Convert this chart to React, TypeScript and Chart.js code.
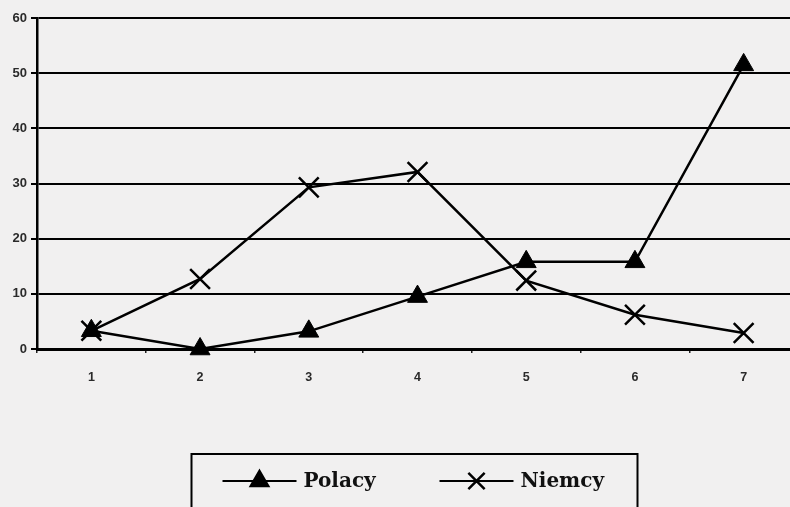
import React, { useEffect, useRef } from "react";
import { Chart, registerables } from "chart.js";
import { drawPoint } from "chart.js/helpers";

Chart.register(...registerables);

const categories = ["1", "2", "3", "4", "5", "6", "7"];
const polacy = [3.3, 0, 3.2, 9.5, 15.8, 15.8, 51.5];
const niemcy = [3.3, 12.7, 29.3, 32.1, 12.4, 6.2, 2.9];
const seriesNames = ["Polacy", "Niemcy"];
const yMin = 0;
const yMax = 60;
const yStep = 10;

const BG = "#f1f0f0";

const boxLegend = {
  id: "boxLegend",
  afterDraw(chart: any) {
    const { ctx, chartArea } = chart;
    const cx = (chartArea.left + chartArea.right) / 2 - 3;
    const boxW = 446;
    const left = cx - boxW / 2;
    const top = chartArea.bottom + 105;
    ctx.save();
    ctx.strokeStyle = "#000";
    ctx.lineWidth = 2;
    ctx.strokeRect(left, top, boxW, 80);
    const rowY = top + 27;
    const itemX = [left + 31, left + 248];
    chart.data.datasets.forEach((ds: any, i: number) => {
      const x0 = itemX[i];
      ctx.strokeStyle = "#000";
      ctx.lineWidth = 2;
      ctx.beginPath();
      ctx.moveTo(x0, rowY);
      ctx.lineTo(x0 + 74, rowY);
      ctx.stroke();
      ctx.fillStyle = "#000";
      ctx.strokeStyle = "#000";
      ctx.lineWidth = 2.5;
      drawPoint(
        ctx,
        {
          pointStyle: ds.pointStyle,
          rotation: 0,
          radius: ds.pointStyle === "triangle" ? 10 : 11.5,
          borderWidth: 2.5,
        },
        x0 + 37,
        rowY
      );
      ctx.fillStyle = "#111";
      ctx.font = "bold 20px 'DejaVu Serif'";
      ctx.textBaseline = "middle";
      ctx.textAlign = "left";
      ctx.fillText(ds.label, x0 + 81, rowY + 1);
    });
    ctx.restore();
  },
};

export default function App() {
  const ref = useRef<HTMLCanvasElement>(null);
  useEffect(() => {
    if (!ref.current) return;
    const chart = new Chart(ref.current, {
      type: "line",
      data: {
        labels: categories,
        datasets: [
          {
            label: seriesNames[0],
            data: polacy,
            borderColor: "#000",
            backgroundColor: "#000",
            borderWidth: 2.5,
            pointStyle: "triangle",
            pointRadius: 11.5,
            pointBorderWidth: 1,
            tension: 0,
            clip: false as any,
          },
          {
            label: seriesNames[1],
            data: niemcy,
            borderColor: "#000",
            backgroundColor: "#000",
            borderWidth: 2.5,
            pointStyle: "crossRot",
            pointRadius: 14,
            pointBorderWidth: 2.5,
            tension: 0,
            clip: false as any,
          },
        ],
      },
      options: {
        responsive: false,
        animation: false,
        devicePixelRatio: 1,
        layout: { autoPadding: false, padding: { left: 0, right: 2, top: 18, bottom: 0 } },
        plugins: { legend: { display: false }, tooltip: { enabled: false } },
        scales: {
          x: {
            offset: true,
            afterFit: (s: any) => {
              s.height = 158;
            },
            grid: {
              offset: true,
              drawOnChartArea: false,
              drawTicks: true,
              tickLength: 4,
              color: "#222",
              lineWidth: 1.5,
            },
            border: { display: true, color: "#000", width: 3 },
            ticks: {
              color: "#2a2a2a",
              font: { family: "'Liberation Sans', Arial", size: 12.5, weight: "bold" },
              padding: 17,
            },
          },
          y: {
            min: yMin,
            max: yMax,
            afterFit: (s: any) => {
              s.width = 37;
            },
            ticks: {
              stepSize: yStep,
              color: "#2a2a2a",
              font: { family: "'Liberation Sans', Arial", size: 13, weight: "bold" },
              padding: 4,
            },
            grid: {
              color: "#000",
              lineWidth: 2,
              tickLength: 6,
            },
            border: { display: true, color: "#000", width: 2.5 },
          },
        },
      },
      plugins: [boxLegend],
    });
    return () => chart.destroy();
  }, []);
  return (
    <div
      style={{
        position: "absolute",
        left: 0,
        top: 0,
        width: 790,
        height: 507,
        overflow: "hidden",
        background: BG,
      }}
    >
      <canvas ref={ref} width={800} height={507} style={{ display: "block" }} />
    </div>
  );
}
